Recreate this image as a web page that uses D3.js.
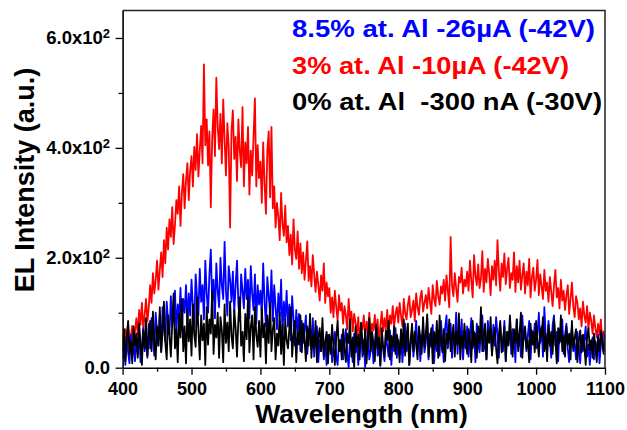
<!DOCTYPE html>
<html lang="en">
<head>
<meta charset="utf-8" />
<title>EL spectra</title>
<script src="https://cdn.jsdelivr.net/npm/d3@7"></script>
<style>
  body { margin: 0; background: #fff; }
  svg { display: block; font-family: "Liberation Sans", Arial, sans-serif; font-weight: bold; }
</style>
</head>
<body>
<script>
// sampling grid of the spectrometer (nm)
const wavelength = d3.range(400, 1101, 2);

// 3% at. Al, -10 uA  (one row per 100 nm)
const red = [
  62, 38, 70, 48, 82, 35, 58, 76, 44, 66, 90, 60, 105, 78, 118, 70, 96, 125, 84, 110,
  150, 118, 172, 135, 160, 195, 142, 178, 210, 165, 232, 190, 255, 215, 270, 238, 292, 225, 260, 305,
  280, 330, 258, 318, 352, 290, 340, 372, 305, 358,
  385, 330, 402, 360, 425, 348, 395, 440, 372, 552, 405, 452, 368, 430, 292, 418, 470, 385, 528, 440,
  398, 462, 372, 488, 415, 350, 445, 402, 255, 430, 468, 380, 420, 340, 452, 395, 365, 474, 330, 410,
  372, 438, 315, 395, 350, 420, 490, 330, 405, 345,
  375, 300, 410, 335, 280, 395, 430, 310, 438, 290, 330, 255, 300, 275, 232, 318, 262, 240, 295, 228,
  258, 205, 242, 188, 270, 215, 198, 248, 180, 226, 172, 210, 160, 195, 230, 158, 185, 148, 205, 170,
  138, 175, 150, 122, 168, 140, 190, 118, 155, 130,
  145, 100, 128, 92, 140, 110, 86, 132, 104, 118, 80, 112, 95, 70, 125, 88, 102, 66, 98, 82,
  60, 92, 48, 78, 70, 95, 55, 84, 64, 100, 52, 80, 68, 96, 58, 88, 44, 75, 102, 66,
  90, 70, 105, 62, 95, 80, 112, 74, 98, 110,
  82, 118, 95, 75, 125, 100, 88, 115, 130, 92, 105, 122, 85, 135, 110, 96, 128, 140, 102, 118,
  132, 108, 145, 120, 98, 150, 125, 112, 158, 130, 115, 148, 135, 160, 122, 168, 140, 110, 238, 150,
  130, 172, 145, 120, 165, 155, 182, 135, 160, 148,
  175, 140, 195, 158, 128, 205, 168, 150, 188, 145, 162, 212, 138, 180, 155, 198, 170, 132, 185, 160,
  195, 150, 232, 175, 140, 190, 165, 208, 152, 180, 200, 145, 172, 160, 210, 138, 185, 155, 195, 142,
  168, 190, 135, 175, 150, 198, 128, 165, 182, 140,
  160, 196, 132, 170, 148, 125, 178, 140, 155, 120, 165, 138, 112, 150, 178, 128, 145, 108, 160, 122,
  140, 105, 132, 150, 98, 125, 155, 112, 92, 130, 118, 88, 108, 75, 120, 95, 82, 112, 70, 100,
  85, 62, 95, 72, 55, 80, 60, 88, 45, 66,
  58
];

// 8.5% at. Al, -26 uA
const blue = [
  15, 42, 5, 55, 28, 8, 60, 20, 45, 12, 50, 25, 68, 10, 40, 72, 30, 55, 18, 80,
  35, 90, 55, 22, 100, 65, 40, 95, 30, 110, 70, 48, 120, 85, 60, 130, 75, 105, 140, 62,
  115, 90, 145, 70, 125, 100, 150, 80, 135, 95,
  160, 110, 75, 170, 130, 95, 180, 120, 150, 88, 195, 135, 100, 170, 215, 118, 160, 90, 190, 140,
  110, 200, 150, 125, 229, 140, 95, 185, 160, 120, 175, 100, 150, 195, 115, 85, 170, 140, 108, 180,
  125, 160, 90, 185, 135, 105, 170, 80, 150, 115,
  140, 95, 190, 120, 75, 165, 130, 100, 177, 85, 150, 110, 70, 135, 95, 160, 60, 120, 88, 140,
  75, 115, 50, 130, 90, 40, 105, 65, 98, 30, 85, 45, 70, 95, 25, 60, 80, 35, 90, 20,
  55, 75, 10, 50, 30, 65, 15, 45, 5, 60,
  35, 55, 10, 40, 65, 20, 5, 50, 30, 60, 15, 45, 70, 25, 0, 55, 35, 10, 62, 28,
  48, 5, 38, 72, 20, 50, 0, 42, 65, 15, 30, 58, 8, 45, 75, 22, 40, 3, 55, 35,
  12, 60, 40, 20, 68, 5, 48, 30, 72, 18,
  50, 25, 65, 10, 45, 80, 30, 55, 5, 40, 70, 20, 48, 85, 35, 60, 12, 52, 75, 28,
  45, 90, 15, 62, 38, 78, 8, 55, 30, 68, 22, 85, 48, 10, 72, 95, 35, 58, 80, 18,
  62, 40, 100, 25, 70, 50, 88, 15, 55, 35,
  75, 20, 58, 90, 35, 65, 10, 80, 45, 28, 70, 95, 30, 55, 15, 85, 48, 62, 25, 78,
  40, 92, 60, 18, 75, 50, 30, 85, 12, 65, 45, 80, 25, 70, 55, 10, 88, 38, 62, 20,
  95, 50, 72, 30, 58, 85, 15, 68, 42, 80,
  35, 60, 100, 45, 75, 20, 110, 55, 30, 85, 50, 18, 78, 95, 40, 65, 12, 70, 48, 88,
  25, 60, 80, 35, 10, 55, 72, 30, 45, 15, 65, 40, 8, 58, 30, 50, 75, 20, 42, 5,
  38, 55, 15, 48, 25, 60, 8, 40, 62, 30,
  45
];

// 0% at. Al, -300 nA
const black = [
  30, 70, 12, 55, 85, 25, 48, 8, 75, 40, 62, 18, 80, 45, 5, 68, 35, 90, 22, 58,
  85, 30, 102, 50, 15, 75, 40, 110, 28, 65, 120, 45, 15, 95, 60, 20, 80, 135, 35, 70,
  10, 98, 55, 125, 30, 75, 8, 105, 48, 88,
  22, 115, 60, 38, 128, 70, 15, 95, 50, 80, 5, 110, 42, 88, 62, 140, 25, 78, 55, 100,
  18, 92, 68, 10, 115, 45, 82, 30, 120, 58, 35, 105, 72, 20, 88, 128, 40, 65, 12, 98,
  52, 130, 28, 75, 95, 15, 110, 60, 38, 85,
  20, 108, 55, 80, 8, 95, 45, 118, 30, 70, 90, 15, 62, 40, 100, 25, 78, 5, 88, 50,
  35, 72, 110, 20, 58, 85, 10, 65, 42, 95, 28, 80, 52, 12, 75, 40, 98, 18, 60, 35,
  85, 10, 55, 72, 30, 90, 22, 48, 65, 8,
  60, 25, 78, 40, 5, 55, 85, 30, 50, 15, 70, 35, 10, 62, 45, 88, 20, 55, 0, 75,
  38, 60, 15, 82, 48, 25, 70, 8, 52, 90, 30, 65, 45, 12, 78, 35, 55, 5, 72, 40,
  20, 68, 50, 85, 15, 58, 38, 75, 25, 60,
  45, 10, 70, 35, 88, 22, 58, 80, 5, 50, 80, 30, 65, 42, 15, 75, 55, 25, 92, 38,
  60, 97, 20, 48, 72, 8, 65, 40, 85, 18, 95, 50, 28, 70, 12, 62, 45, 88, 30, 55,
  78, 20, 66, 42, 99, 15, 58, 35, 80, 48,
  25, 70, 52, 10, 85, 40, 62, 18, 75, 45, 110, 30, 58, 80, 15, 68, 45, 92, 22, 55,
  72, 35, 8, 60, 85, 28, 50, 75, 12, 65, 40, 95, 55, 20, 70, 45, 88, 30, 62, 100,
  18, 58, 75, 35, 50, 10, 80, 42, 65, 28,
  85, 48, 20, 70, 55, 92, 30, 62, 12, 78, 40, 65, 25, 88, 50, 8, 72, 45, 95, 30,
  58, 20, 75, 42, 62, 15, 85, 35, 55, 70, 10, 48, 68, 28, 60, 40, 5, 55, 72, 32,
  50, 18, 62, 38, 10, 55, 30, 68, 45, 25,
  60
];

const seriesNames = ["8.5% at. Al -26\u00b5A (-42V)", "3% at. Al -10\u00b5A (-42V)", "0% at. Al  -300 nA (-30V)"];
const seriesColors = ["#0000ff", "#ff0000", "#000000"];
const legendWidths = [303, 277, 310];

const xMajor = [400, 500, 600, 700, 800, 900, 1000, 1100];
const xMinor = [450, 550, 650, 750, 850, 950, 1050];
const yMajor = [0, 200, 400, 600];
const yMinor = [100, 300, 500];
const yLabels = ["0.0", "2.0x10", "4.0x10", "6.0x10"];

const width = 627, height = 430;
const plotLeft = 122.6, plotRight = 605, plotTop = 10.5, plotBottom = 367.7;

const x = d3.scaleLinear().domain([400, 1100]).range([plotLeft, plotRight]);
const y = d3.scaleLinear().domain([0, 650]).range([plotBottom, plotTop]);

const svg = d3.select("body").append("svg")
    .attr("width", width)
    .attr("height", height);

svg.append("clipPath")
    .attr("id", "plot")
  .append("rect")
    .attr("x", plotLeft)
    .attr("y", plotTop)
    .attr("width", plotRight - plotLeft)
    .attr("height", plotBottom - plotTop);

const line = d3.line()
    .x((d, i) => x(wavelength[i]))
    .y(d => y(d));

// red underneath, black on top
const drawOrder = [[red, "#ff0000"], [blue, "#0000ff"], [black, "#000000"]];
svg.append("g")
    .attr("clip-path", "url(#plot)")
    .attr("fill", "none")
    .attr("stroke-width", 1.8)
    .attr("stroke-linejoin", "round")
  .selectAll("path")
  .data(drawOrder)
  .join("path")
    .attr("stroke", d => d[1])
    .attr("d", d => line(d[0]));

// frame
svg.append("path")
    .attr("fill", "none")
    .attr("stroke", "#222")
    .attr("stroke-width", 1.5)
    .attr("d", `M${plotLeft},${plotTop}H${plotRight}V${plotBottom}`);

const xAxis = svg.append("g")
    .attr("transform", `translate(0,${plotBottom})`)
    .call(d3.axisBottom(x).tickValues(xMajor).tickFormat(d3.format("d"))
      .tickSize(7).tickSizeOuter(0).tickPadding(8));

svg.append("g")
    .attr("transform", `translate(0,${plotBottom})`)
    .call(d3.axisBottom(x).tickValues(xMinor).tickSize(4).tickSizeOuter(0).tickFormat(""))
    .call(g => g.select(".domain").remove());

const yAxis = svg.append("g")
    .attr("transform", `translate(${plotLeft},0)`)
    .call(d3.axisLeft(y).tickValues(yMajor).tickSize(7).tickSizeOuter(0).tickPadding(5.5));

svg.append("g")
    .attr("transform", `translate(${plotLeft},0)`)
    .call(d3.axisLeft(y).tickValues(yMinor).tickSize(4).tickSizeOuter(0).tickFormat(""))
    .call(g => g.select(".domain").remove());

svg.selectAll(".domain").attr("stroke", "#000").attr("stroke-width", 1.6);
svg.selectAll(".tick line").attr("stroke", "#000").attr("stroke-width", 1.3);

xAxis.attr("font-family", null);
xAxis.selectAll("text")
    .attr("font-size", 18)
    .attr("fill", "#000");

yAxis.attr("font-family", null);
yAxis.selectAll("text")
    .attr("font-size", 18.5)
    .attr("fill", "#000")
    .each(function(d, i) {
      const t = d3.select(this).text(null);
      t.append("tspan").text(yLabels[i]);
      if (i > 0) t.append("tspan").attr("dy", "-0.5em").attr("font-size", 13).text("2");
    });

svg.append("text")
    .attr("x", 361.5)
    .attr("y", 423)
    .attr("text-anchor", "middle")
    .attr("font-size", 26.5)
    .text("Wavelength (nm)");

svg.append("text")
    .attr("transform", `translate(34,180) rotate(-90)`)
    .attr("text-anchor", "middle")
    .attr("font-size", 27)
    .text("EL Intensity (a.u.)");

svg.append("g")
  .selectAll("text")
  .data(seriesNames)
  .join("text")
    .attr("x", 292)
    .attr("y", (d, i) => 37 + i * 36.5)
    .attr("font-size", 23)
    .attr("fill", (d, i) => seriesColors[i])
    .attr("textLength", (d, i) => legendWidths[i])
    .attr("lengthAdjust", "spacingAndGlyphs")
    .style("white-space", "pre")
    .text(d => d);
</script>
</body>
</html>
